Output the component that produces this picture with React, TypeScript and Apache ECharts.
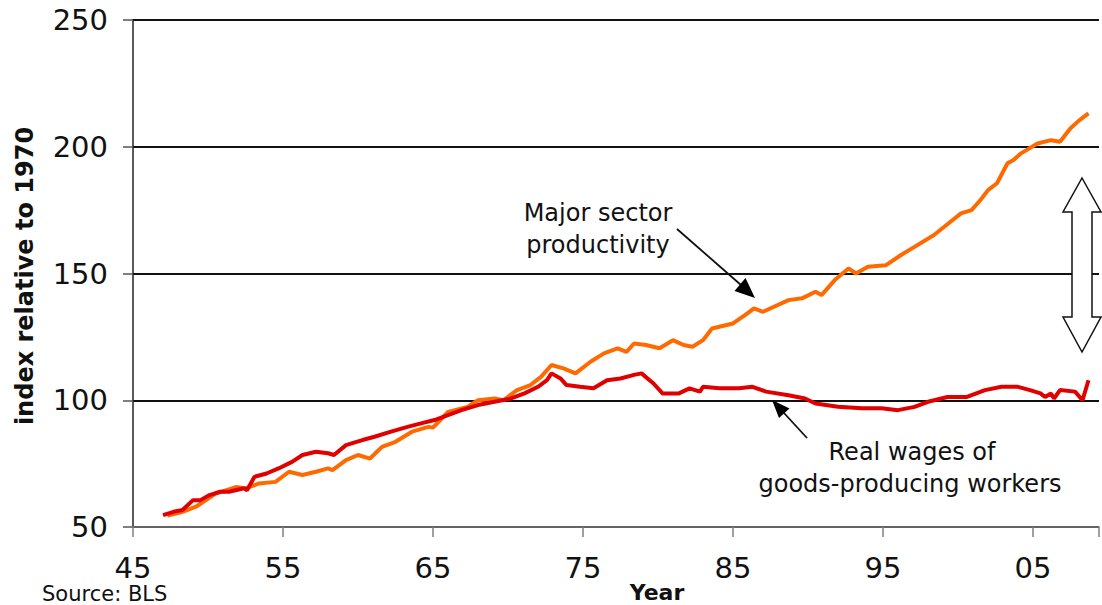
import React, { useEffect, useRef } from 'react';
import * as echarts from 'echarts';

// Major sector productivity (index, 1970 = 100)
const prodYears = [
  1947.3, 1947.8, 1948.3, 1949.2, 1950.5, 1951.9, 1952.5, 1953.4, 1954.5, 1955.4,
  1956.3, 1957.2, 1958.0, 1958.3, 1959.2, 1960.0, 1960.8, 1961.6, 1962.5, 1963.6,
  1964.7, 1965.0, 1966.0, 1967.3, 1968.0, 1969.1, 1969.7, 1970.6, 1971.5, 1972.2,
  1972.9, 1973.7, 1974.5, 1975.5, 1976.4, 1977.3, 1977.9, 1978.4, 1979.2, 1980.1,
  1981.0, 1981.7, 1982.3, 1983.0, 1983.6, 1985.0, 1985.8, 1986.4, 1987.0, 1988.7,
  1989.6, 1990.5, 1990.9, 1991.8, 1992.7, 1993.2, 1994.0, 1995.2, 1996.2, 1997.1,
  1998.4, 1999.5, 2000.2, 2000.9, 2001.5, 2002.0, 2002.6, 2003.3, 2003.7, 2004.2,
  2005.3, 2006.2, 2006.8, 2007.5, 2008.1, 2008.7,
];
const prodValues = [
  54.5, 55.2, 56.0, 58.0, 63.2, 65.8, 65.2, 67.2, 67.8, 71.8,
  70.5, 71.8, 73.1, 72.4, 76.4, 78.4, 77.0, 81.6, 83.6, 87.6,
  89.5, 89.2, 95.4, 97.4, 100.0, 100.7, 100.0, 104.0, 106.0, 109.2,
  113.9, 112.6, 110.6, 115.2, 118.5, 120.5, 119.1, 122.4, 121.8, 120.5,
  123.7, 121.8, 121.1, 123.7, 128.3, 130.3, 133.6, 136.2, 134.9, 139.5,
  140.2, 142.8, 141.5, 147.5, 152.0, 150.0, 152.7, 153.3, 157.3, 160.5,
  165.2, 170.4, 173.7, 175.0, 179.0, 182.9, 185.6, 193.5, 194.8, 197.4,
  201.3, 202.6, 202.0, 207.3, 210.5, 213.2,
];

// Real wages of goods-producing workers (index, 1970 = 100)
const wageYears = [
  1947.0, 1947.7, 1948.3, 1949.0, 1949.5, 1950.1, 1950.8, 1951.4, 1952.4, 1952.6,
  1953.1, 1953.9, 1954.7, 1955.6, 1956.3, 1957.2, 1958.0, 1958.4, 1959.2, 1959.9,
  1960.3, 1961.1, 1962.2, 1963.3, 1964.2, 1965.1, 1966.0, 1966.9, 1968.0, 1969.1,
  1970.2, 1971.1, 1972.0, 1972.6, 1972.9, 1973.5, 1973.9, 1974.8, 1975.7, 1976.6,
  1977.5, 1978.4, 1978.9, 1979.7, 1980.3, 1981.4, 1982.1, 1982.8, 1983.0, 1984.1,
  1985.4, 1986.3, 1987.2, 1988.7, 1989.8, 1990.5, 1992.0, 1993.6, 1994.9, 1996.0,
  1997.1, 1998.0, 1999.3, 2000.6, 2001.8, 2002.9, 2004.0, 2004.8, 2005.5, 2005.8,
  2006.2, 2006.4, 2006.8, 2007.8, 2008.3, 2008.7,
];
const wageValues = [
  54.7, 56.0, 56.7, 60.6, 60.6, 62.6, 63.9, 63.9, 65.3, 64.5,
  69.8, 71.1, 73.1, 75.7, 78.4, 79.7, 79.1, 78.4, 82.3, 83.6,
  84.3, 85.6, 87.6, 89.5, 90.9, 92.2, 94.1, 96.1, 98.1, 99.4,
  100.7, 102.7, 105.3, 107.9, 110.6, 108.6, 106.0, 105.3, 104.7, 107.9,
  108.6, 110.0, 110.6, 106.6, 102.7, 102.7, 104.7, 103.4, 105.3, 104.7,
  104.7, 105.3, 103.4, 102.0, 100.7, 98.7, 97.4, 96.8, 96.8, 96.1,
  97.4, 99.4, 101.3, 101.3, 104.0, 105.3, 105.3, 104.0, 102.7, 101.3,
  102.7, 100.7, 104.0, 103.4, 100.0, 107.9,
];

const X_MIN = 1945;
const X_MAX = 2009.4;
const X_STEP = 10;
const Y_MIN = 50;
const Y_MAX = 250;
const Y_STEP = 50;

const FONT = '"DejaVu Sans", Verdana, sans-serif';

export default function App() {
  const ref = useRef<HTMLDivElement>(null);

  useEffect(() => {
    document.body.style.margin = '0';
    const chart = echarts.init(ref.current as HTMLDivElement, null, { renderer: 'svg' });

    const prodData = prodYears.map((y, i) => [y, prodValues[i]]);
    const wageData = wageYears.map((y, i) => [y, wageValues[i]]);

    const txt = (text: string, x: number, y: number, size: number, extra: any = {}) => ({
      type: 'text',
      x,
      y,
      z: 100,
      style: {
        text,
        fontSize: size,
        fontFamily: FONT,
        fill: '#111',
        align: 'center',
        verticalAlign: 'middle',
        ...extra,
      },
    });

    chart.setOption({
      animation: false,
      backgroundColor: '#fff',
      grid: { left: 133, right: -3, top: 20, bottom: 78 },
      xAxis: {
        type: 'value',
        min: X_MIN,
        max: X_MAX,
        interval: X_STEP,
        axisLine: { show: true, lineStyle: { color: '#808080', width: 1.5 } },
        axisTick: { show: true, inside: false, length: 10, lineStyle: { color: '#808080', width: 1.5 } },
        axisLabel: {
          fontSize: 29,
          lineHeight: 29,
          fontFamily: FONT,
          color: '#111',
          margin: 26,
          formatter: (v: number) => {
            if (Math.abs((v - X_MIN) % X_STEP) > 1e-6) return '';
            const yy = Math.round(v) % 100;
            return yy < 10 ? '0' + yy : String(yy);
          },
        },
        splitLine: { show: false },
      },
      yAxis: {
        type: 'value',
        min: Y_MIN,
        max: Y_MAX,
        interval: Y_STEP,
        axisLine: { show: true, lineStyle: { color: '#222', width: 1.5 } },
        axisTick: { show: true, inside: false, length: 10, lineStyle: { color: '#555', width: 1.5 } },
        axisLabel: { fontSize: 29, fontFamily: FONT, color: '#111', margin: 25 },
        splitLine: { show: true, lineStyle: { color: '#111', width: 2 } },
      },
      series: [
        {
          name: 'Major sector productivity',
          type: 'line',
          data: prodData,
          showSymbol: false,
          symbol: 'none',
          lineStyle: { color: '#FF6A00', width: 4 },
          z: 3,
        },
        {
          name: 'Real wages of goods-producing workers',
          type: 'line',
          data: wageData,
          showSymbol: false,
          symbol: 'none',
          lineStyle: { color: '#E00000', width: 4 },
          z: 4,
        },
      ],
      graphic: [
        txt('Major sector', 598, 213, 24),
        txt('productivity', 598, 245, 24),
        txt('Real wages of', 912, 452, 24),
        txt('goods-producing workers', 910, 484, 24),
        txt('Year', 657, 592, 22, { fontWeight: 'bold' }),
        txt('Source: BLS', 42, 594, 21, { align: 'left' }),
        {
          type: 'text',
          x: 25,
          y: 276,
          rotation: Math.PI / 2,
          z: 100,
          style: {
            text: 'index relative to 1970',
            fontSize: 24,
            fontWeight: 'bold',
            fontFamily: FONT,
            fill: '#111',
            align: 'center',
            verticalAlign: 'middle',
          },
        },
        // arrow to productivity line
        {
          type: 'line',
          z: 100,
          shape: { x1: 677, y1: 229, x2: 741, y2: 285 },
          style: { stroke: '#111', lineWidth: 1.8 },
        },
        {
          type: 'polygon',
          z: 100,
          shape: { points: [[755, 298], [734.5, 291], [745.5, 278]] },
          style: { fill: '#000' },
        },
        // arrow to wages line
        {
          type: 'line',
          z: 100,
          shape: { x1: 807, y1: 438, x2: 784, y2: 413 },
          style: { stroke: '#111', lineWidth: 1.8 },
        },
        {
          type: 'polygon',
          z: 100,
          shape: { points: [[772, 400], [789.5, 408.5], [779, 418]] },
          style: { fill: '#000' },
        },
        // double-headed gap arrow
        {
          type: 'polygon',
          z: 100,
          shape: {
            points: [
              [1082, 178], [1101, 212], [1092, 212], [1092, 317], [1101, 317],
              [1082, 352], [1063, 317], [1072, 317], [1072, 212], [1063, 212],
            ],
          },
          style: { fill: '#fff', stroke: '#111', lineWidth: 1.5 },
        },
      ],
    });

    return () => chart.dispose();
  }, []);

  return <div ref={ref} style={{ width: 1102, height: 605 }} />;
}
